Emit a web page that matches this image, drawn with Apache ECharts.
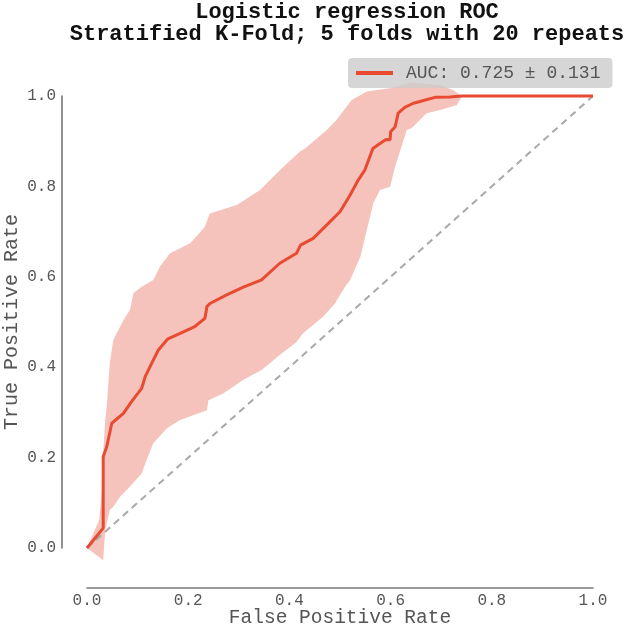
<!DOCTYPE html>
<html>
<head>
<meta charset="utf-8">
<script src="https://cdn.jsdelivr.net/npm/echarts@6/dist/echarts.min.js"></script>
<style>html,body{margin:0;padding:0;background:#fff}#c{width:630px;height:629px}</style>
</head>
<body>
<div id="c"></div>
<script>
var titleText = "Logistic regression ROC\nStratified K-Fold; 5 folds with 20 repeats";
var legendLabel = "AUC: 0.725 \u00b1 0.131";
var xName = "False Positive Rate";
var yName = "True Positive Rate";
var tickValues = [0, 0.2, 0.4, 0.6, 0.8, 1.0];

var meanFpr = [0, 0.032, 0.032, 0.039, 0.049, 0.072, 0.088, 0.108, 0.115, 0.128, 0.141, 0.159, 0.184, 0.213, 0.233, 0.237, 0.243, 0.276, 0.309, 0.345, 0.381, 0.414, 0.422, 0.447, 0.474, 0.500, 0.520, 0.536, 0.549, 0.565, 0.579, 0.591, 0.599, 0.600, 0.609, 0.615, 0.628, 0.645, 0.665, 0.688, 0.717, 0.740, 1.0];
var meanTpr = [0, 0.044, 0.202, 0.224, 0.276, 0.298, 0.324, 0.353, 0.379, 0.409, 0.438, 0.462, 0.475, 0.490, 0.508, 0.534, 0.541, 0.560, 0.577, 0.593, 0.630, 0.652, 0.670, 0.685, 0.715, 0.744, 0.781, 0.814, 0.836, 0.884, 0.895, 0.904, 0.903, 0.921, 0.932, 0.962, 0.975, 0.984, 0.990, 0.997, 0.998, 1.0, 1.0];

var upperFpr = [0, 0.024, 0.029, 0.032, 0.036, 0.039, 0.045, 0.052, 0.072, 0.085, 0.092, 0.108, 0.131, 0.144, 0.164, 0.204, 0.233, 0.240, 0.243, 0.296, 0.342, 0.381, 0.421, 0.431, 0.474, 0.493, 0.523, 0.553, 0.599, 0.640, 0.700, 0.725, 0.740, 1.0];
var upperTpr = [0, 0.062, 0.121, 0.210, 0.283, 0.313, 0.409, 0.460, 0.504, 0.527, 0.564, 0.578, 0.593, 0.622, 0.652, 0.674, 0.711, 0.733, 0.740, 0.759, 0.792, 0.836, 0.877, 0.884, 0.925, 0.947, 0.991, 1.010, 1.017, 1.030, 1.024, 1.012, 1.0, 1.0];

var lowerFpr = [0, 0.032, 0.036, 0.045, 0.052, 0.065, 0.085, 0.108, 0.118, 0.131, 0.158, 0.184, 0.237, 0.240, 0.269, 0.309, 0.345, 0.381, 0.414, 0.427, 0.467, 0.490, 0.510, 0.520, 0.540, 0.566, 0.579, 0.599, 0.609, 0.632, 0.642, 0.671, 0.698, 0.731, 0.740, 1.0];
var lowerTpr = [0, -0.027, 0.040, 0.084, 0.091, 0.113, 0.136, 0.165, 0.195, 0.232, 0.265, 0.283, 0.305, 0.327, 0.342, 0.372, 0.394, 0.427, 0.456, 0.475, 0.512, 0.541, 0.578, 0.593, 0.644, 0.763, 0.792, 0.799, 0.844, 0.925, 0.929, 0.962, 0.969, 0.980, 0.998, 1.0];

var diagX = [0, 1];
var diagY = [0, 1];

function zip(a, b) { return a.map(function (v, i) { return [v, b[i]]; }); }

var FONT = "'Liberation Mono', 'Courier New', monospace";
var chart = echarts.init(document.getElementById('c'), null, {renderer: 'canvas'});
chart.setOption({
  animation: false,
  backgroundColor: '#ffffff',
  title: {
    text: titleText,
    left: 342, top: -4, textAlign: 'center',
    textStyle: {fontFamily: FONT, fontWeight: 'bold', fontSize: 22, lineHeight: 22, color: '#111'}
  },
  legend: {
    data: [{name: legendLabel, icon: 'rect'}],
    left: 348, top: 58,
    padding: [6, 12, 6, 8],
    itemWidth: 37, itemHeight: 4, itemGap: 10,
    backgroundColor: 'rgba(204,204,204,0.8)',
    borderRadius: 4,
    textStyle: {fontFamily: FONT, fontSize: 18, color: '#555', padding: [0, 0, 0, 8]}
  },
  grid: {left: 87, right: 37, top: 96, bottom: 81, containLabel: false, outerBoundsMode: 'none'},
  xAxis: {
    type: 'value', min: 0, max: 1, interval: 0.2, offset: 40,
    name: xName, nameLocation: 'middle', nameGap: 20, nameMoveOverlap: false,
    nameTextStyle: {fontFamily: FONT, fontSize: 19.5, color: '#555'},
    axisLine: {show: true, onZero: false, lineStyle: {color: '#777', width: 1.6}},
    axisTick: {show: false},
    splitLine: {show: false},
    axisLabel: {fontFamily: FONT, fontSize: 16, color: '#555', margin: 5,
      formatter: function (v) { return v.toFixed(1); }}
  },
  yAxis: {
    type: 'value', min: 0, max: 1, interval: 0.2, offset: 25,
    name: yName, nameLocation: 'middle', nameGap: 40, nameMoveOverlap: false,
    nameTextStyle: {fontFamily: FONT, fontSize: 20, color: '#555'},
    axisLine: {show: true, onZero: false, lineStyle: {color: '#777', width: 1.6}},
    axisTick: {show: false},
    splitLine: {show: false},
    axisLabel: {fontFamily: FONT, fontSize: 16, color: '#555', margin: 6,
      formatter: function (v) { return v.toFixed(1); }}
  },
  series: [
    {
      type: 'custom', name: 'band', z: 1, clip: false, silent: true,
      data: [[0, 0]],
      renderItem: function (params, api) {
        var pts = [];
        for (var i = 0; i < upperFpr.length; i++) pts.push(api.coord([upperFpr[i], upperTpr[i]]));
        for (var j = lowerFpr.length - 1; j >= 0; j--) pts.push(api.coord([lowerFpr[j], lowerTpr[j]]));
        return {type: 'polygon', shape: {points: pts}, style: {fill: '#f5c3bb', stroke: null}};
      }
    },
    {
      type: 'line', name: 'chance', z: 2, symbol: 'none', clip: false, silent: true,
      data: zip(diagX, diagY),
      lineStyle: {color: '#a8a8a8', width: 2, type: [7, 5]}
    },
    {
      type: 'line', name: legendLabel, z: 3, symbol: 'none', clip: false,
      data: zip(meanFpr, meanTpr),
      itemStyle: {color: '#e84a32'},
      lineStyle: {color: '#e84a32', width: 3}
    }
  ]
});
</script>
</body>
</html>
